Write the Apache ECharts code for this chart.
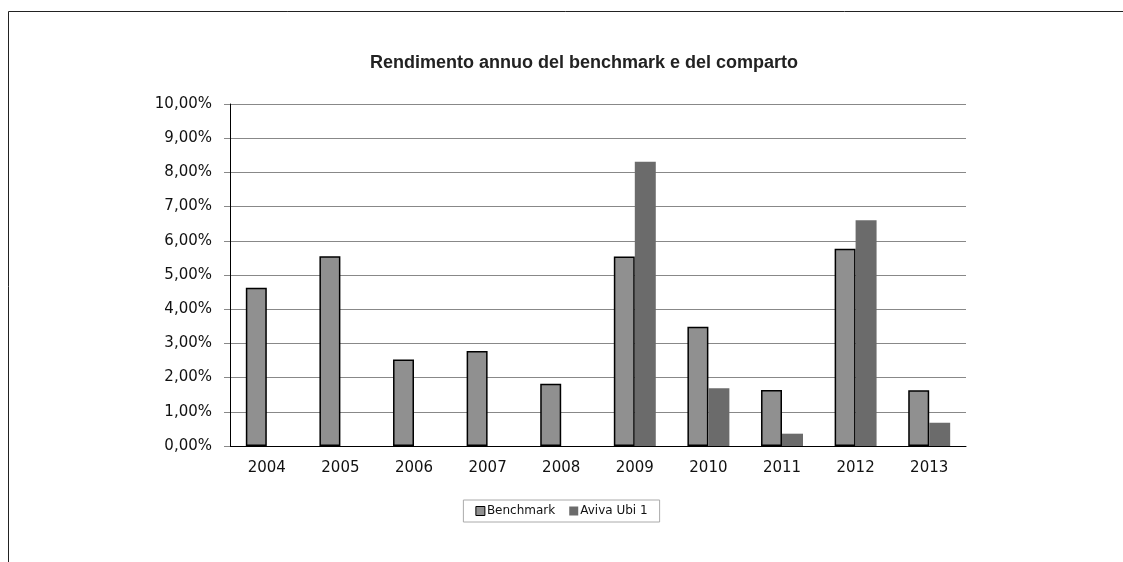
<!DOCTYPE html>
<html>
<head>
<meta charset="utf-8">
<script src="https://cdn.jsdelivr.net/npm/echarts@6/dist/echarts.min.js"></script>
<style>
  html, body { margin: 0; padding: 0; background: #fff; }
  #chart { width: 1123px; height: 562px; }
</style>
</head>
<body>
<div id="chart"></div>
<script>
var years = ["2004", "2005", "2006", "2007", "2008", "2009", "2010", "2011", "2012", "2013"];
var benchmark = [4.63, 5.55, 2.53, 2.78, 1.82, 5.54, 3.49, 1.64, 5.77, 1.63];
var aviva = [null, null, null, null, null, 8.31, 1.69, 0.36, 6.60, 0.68];
var yTicks = { min: 0, max: 10, interval: 1 };

var chart = echarts.init(document.getElementById("chart"));

function pct(v) {
  return v.toFixed(2).replace(".", ",") + "%";
}

chart.setOption({
  animation: false,
  backgroundColor: "#fff",
  title: {
    text: "Rendimento annuo del benchmark e del comparto",
    left: 579,
    top: 49,
    textAlign: "center",
    textStyle: {
      fontFamily: "Liberation Sans",
      fontWeight: "bold",
      fontSize: 18,
      color: "#222"
    }
  },
  legend: {
    bottom: 40,
    left: "center",
    icon: "rect",
    itemWidth: 9,
    itemHeight: 9,
    itemGap: 14,
    padding: [5, 12],
    borderColor: "#aaa",
    borderWidth: 1,
    textStyle: {
      fontFamily: "DejaVu Sans",
      fontSize: 12,
      color: "#111",
      padding: [0, 0, 0, -3]
    },
    data: [
      { name: "Benchmark", itemStyle: { borderColor: "#000", borderWidth: 1 } },
      { name: "Aviva Ubi 1" }
    ]
  },
  grid: {
    left: 230,
    right: 157,
    top: 104,
    bottom: 116
  },
  xAxis: {
    type: "category",
    data: years,
    axisLine: { lineStyle: { color: "#000", width: 1 } },
    axisTick: { length: 6, lineStyle: { color: "#888" } },
    axisLabel: {
      fontFamily: "DejaVu Sans",
      fontSize: 15,
      color: "#111",
      margin: 15
    }
  },
  yAxis: {
    type: "value",
    min: yTicks.min,
    max: yTicks.max,
    interval: yTicks.interval,
    axisLine: { show: true, lineStyle: { color: "#000", width: 1 } },
    axisTick: { show: true, length: 6, lineStyle: { color: "#888" } },
    splitLine: { lineStyle: { color: "#888", width: 1 } },
    axisLabel: {
      fontFamily: "DejaVu Sans",
      fontSize: 15,
      color: "#111",
      margin: 18,
      formatter: pct
    }
  },
  series: [
    {
      name: "Benchmark",
      type: "bar",
      data: benchmark,
      barGap: "0%",
      barCategoryGap: "43%",
      itemStyle: { color: "#909090", borderColor: "#000", borderWidth: 1.5 }
    },
    {
      name: "Aviva Ubi 1",
      type: "bar",
      data: aviva,
      itemStyle: { color: "#6b6b6b" }
    }
  ],
  graphic: [
    {
      type: "polyline",
      shape: { points: [[8.5, 562], [8.5, 11.5], [1123, 11.5]] },
      style: { stroke: "#222", lineWidth: 1, fill: null },
      silent: true
    }
  ]
});
</script>
</body>
</html>
